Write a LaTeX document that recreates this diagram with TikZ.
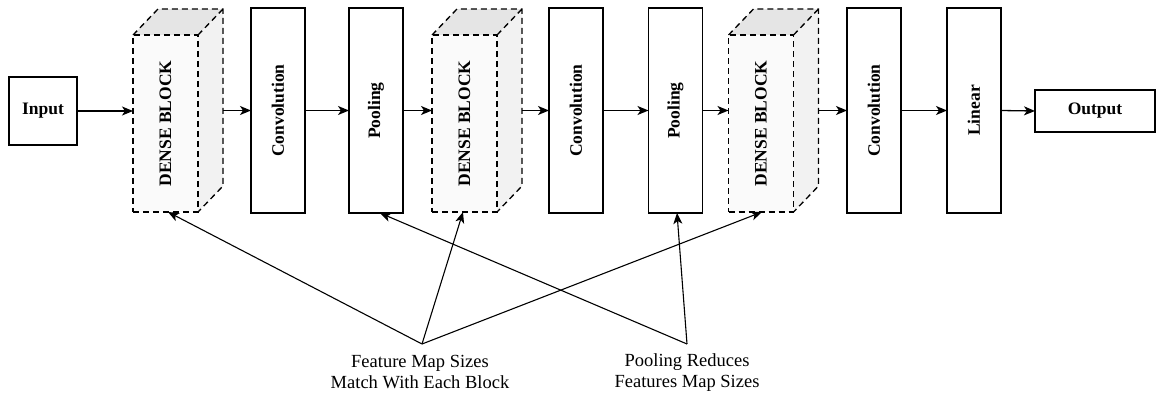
\documentclass[tikz,border=0pt]{standalone}
\usepackage{fontspec}
\setmainfont{Liberation Serif}
\usepackage{graphicx}
\usetikzlibrary{arrows.meta,calc,backgrounds}

\newcommand{\lblfont}{\fontsize{17.5}{20}\selectfont\bfseries}
\newcommand{\notefont}{\fontsize{18.5}{21}\selectfont}

\tikzset{
  box/.style={draw, line width=1.3pt, fill=white, inner sep=0pt, outer sep=0pt, font=\lblfont},
  layerbox/.style={box, minimum width=54pt, minimum height=205pt},
  densefront/.style={draw, line width=1.3pt, dash pattern=on 6pt off 4pt, fill=black!2,
    inner sep=0pt, outer sep=0pt, minimum width=65pt, minimum height=177pt, font=\lblfont},
  denseback/.style={inner sep=0pt, outer sep=0pt, minimum width=65pt, minimum height=177pt},
  denseedge/.style={line width=1.3pt, dash pattern=on 6pt off 4pt},
  topface/.style={fill=black!10},
  sideface/.style={fill=black!5},
  flow/.style={line width=1.3pt, -{Stealth[length=11pt,width=9pt,inset=3pt]}},
  note/.style={align=center, font=\notefont, inner sep=0pt}
}

% three-dimensional dense block: front face node, hidden back face, shaded faces
\newcommand{\denseblock}[2]{%
  \node[densefront] (#1) at #2 {\rotatebox{90}{DENSE BLOCK}};
  \node[denseback] (#1b) at ($(#1)+(25,-26)$) {};
  \begin{scope}[on background layer]
    \fill[topface] (#1.north west) -- (#1b.north west) -- (#1b.north east) -- (#1.north east) -- cycle;
    \fill[sideface] (#1.north east) -- (#1b.north east) -- (#1b.south east) -- (#1.south east) -- cycle;
  \end{scope}
  \draw[denseedge] (#1.north west) -- (#1b.north west) -- (#1b.north east) -- (#1b.south east) -- (#1.south east)
                   (#1.north east) -- (#1b.north east);
}

\begin{document}
\begin{tikzpicture}[x=1pt,y=-1pt]
  \useasboundingbox (0,0) rectangle (1157,399);

  % main pipeline
  \node[box, minimum width=68pt, minimum height=68pt] (in) at (43,111) {Input};
  \denseblock{d1}{(165.5,123.5)}
  \node[layerbox] (c1) at (278,110.5) {\rotatebox{90}{Convolution}};
  \node[layerbox] (p1) at (376,110.5) {\rotatebox{90}{Pooling}};
  \denseblock{d2}{(464.5,123.5)}
  \node[layerbox] (c2) at (576,110.5) {\rotatebox{90}{Convolution}};
  \node[layerbox] (p2) at (675.5,110.5) {\rotatebox{90}{Pooling}};
  \denseblock{d3}{(761,123.5)}
  \node[layerbox] (c3) at (874,110.5) {\rotatebox{90}{Convolution}};
  \node[layerbox] (lin) at (974,110.5) {\rotatebox{90}{Linear}};
  \node[box, minimum width=120pt, minimum height=42pt] (out) at (1095,111) {Output};

  % forward connections
  \draw[flow] (in.east) -- (in.east -| d1.west);
  \draw[flow] (c1.west -| d1b.east) -- (c1.west);
  \draw[flow] (c1.east) -- (p1.west);
  \draw[flow] (p1.east) -- (p1.east -| d2.west);
  \draw[flow] (c2.west -| d2b.east) -- (c2.west);
  \draw[flow] (c2.east) -- (p2.west);
  \draw[flow] (p2.east) -- (p2.east -| d3.west);
  \draw[flow] (c3.west -| d3b.east) -- (c3.west);
  \draw[flow] (c3.east) -- (lin.west);
  \draw[flow] (lin.east) -- (out.west);

  % annotations
  \node[note] (n1) at (420,372.5) {Feature Map Sizes\\Match With Each Block};
  \node[note] (n2) at (687,372.5) {Pooling Reduces\\Features Map Sizes};
  \coordinate (f1) at (422,344);
  \coordinate (f2) at (687,344);

  \draw[flow, line width=1.1pt] (f1) -- ($(d1.south)+(2.5,0)$);
  \draw[flow, line width=1.1pt] (f1) -- ($(d2.south)+(-1.5,0)$);
  \draw[flow, line width=1.1pt] (f1) -- ($(d3.south)+(1,0)$);
  \draw[flow, line width=1.1pt] (f2) -- ($(p1.south)+(4,0)$);
  \draw[flow, line width=1.1pt] (f2) -- ($(p2.south)+(1.5,0)$);
\end{tikzpicture}
\end{document}
